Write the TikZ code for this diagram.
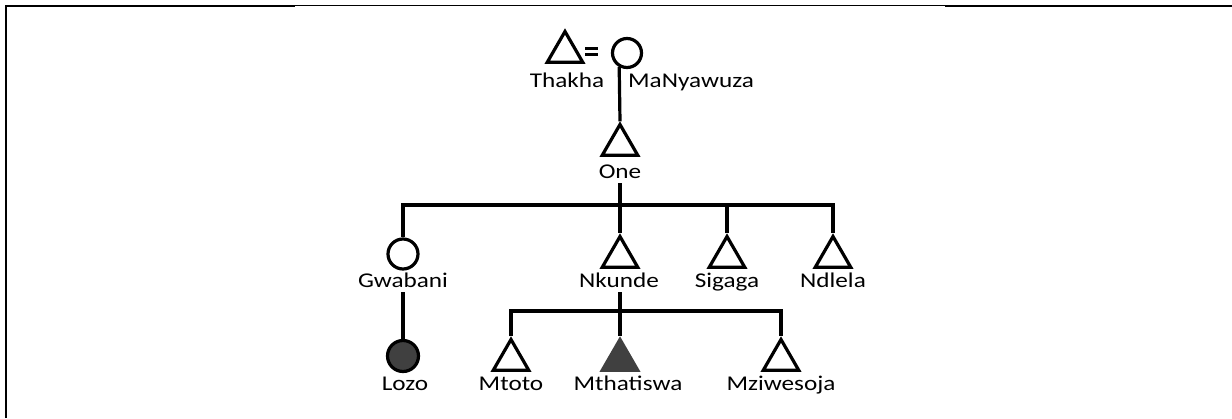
\documentclass[tikz,border=0pt]{standalone}
\usepackage{fontspec}
\setmainfont{Carlito}[FakeStretch=1.2]
\usetikzlibrary{shapes.geometric}
\begin{document}
\begin{tikzpicture}[x=1pt,y=-1pt,
  ln/.style={line width=3.2pt},
  male/.style={regular polygon,regular polygon sides=3,minimum size=41pt,inner sep=0pt,draw,line width=3.2pt},
  female/.style={circle,minimum size=29pt,inner sep=0pt,draw,line width=3.2pt},
  lbl/.style={inner sep=0pt,outer sep=0pt,text depth=0pt,anchor=base,font=\fontsize{21}{24}\selectfont},
  darkfill/.style={fill=black!75}]
\useasboundingbox (0,0) rectangle (1232,418);
% frame
\draw[line width=2.2pt] (6,418) -- (6,6) -- (295,6);
\draw[line width=1pt] (295,5.5) -- (945,5.5);
\draw[line width=2.2pt] (945,6) -- (1232,6);
% generation 1
\node[male] (thakha) at (565,52) {};
\node[female] (many) at (627,53) {};
\draw[line width=3pt] (585,48.5) -- (598,48.5);
\draw[line width=3pt] (585,54.5) -- (598,54.5);
\node[lbl] (thakhal) at (567,87) {Thakha};
\node[lbl] (manyl) at (691,87) {MaNyawuza};
% generation 2
\node[male] (one) at (620,145) {};
\node[lbl] (onel) at (620,178) {One};
\draw[ln] (many.-119) -- (one.north);
% generation 3
\coordinate (b1) at (620,205);
\node[female,minimum size=30pt] (gwabani) at (403,254) {};
\node[male] (nkunde) at (620,257) {};
\node[male] (sigaga) at (727,257) {};
\node[male] (ndlela) at (833,257) {};
\node[lbl] (gwabanil) at (403,287) {Gwabani};
\node[lbl] (nkundel) at (619,287) {Nkunde};
\node[lbl] (sigagal) at (727,287) {Sigaga};
\node[lbl] (ndlelal) at (833,287) {Ndlela};
\draw[ln] ([yshift=-5pt]onel.south -| one.north) -- (b1);
\draw[ln] (gwabani.north) |- (b1) -| (ndlela.north);
\draw[ln] (b1) -- (nkunde.north);
\draw[ln] (sigaga.north) -- (sigaga.north |- b1);
% generation 4
\coordinate (b2) at (620,311);
\node[female,darkfill,minimum size=31pt] (lozo) at (403,356) {};
\node[male] (mtoto) at (511,360) {};
\node[male,fill=black!75,draw=black!75] (mthatiswa) at (620,360) {};
\node[male] (mziwesoja) at (781,360) {};
\node[lbl] (lozol) at (405,390) {Lozo};
\node[lbl] (mtotol) at (511,390) {Mtoto};
\node[lbl] (mthatiswal) at (628,390) {Mthatiswa};
\node[lbl] (mziwesojal) at (781,390) {Mziwesoja};
\draw[ln] ([yshift=-5pt]gwabanil.south -| gwabani.north) -- (lozo.north);
\draw[ln] ([yshift=-5pt]nkundel.south -| nkunde.north) -- (mthatiswa.north);
\draw[ln] (mtoto.north) |- (b2) -| (mziwesoja.north);
\end{tikzpicture}
\end{document}
